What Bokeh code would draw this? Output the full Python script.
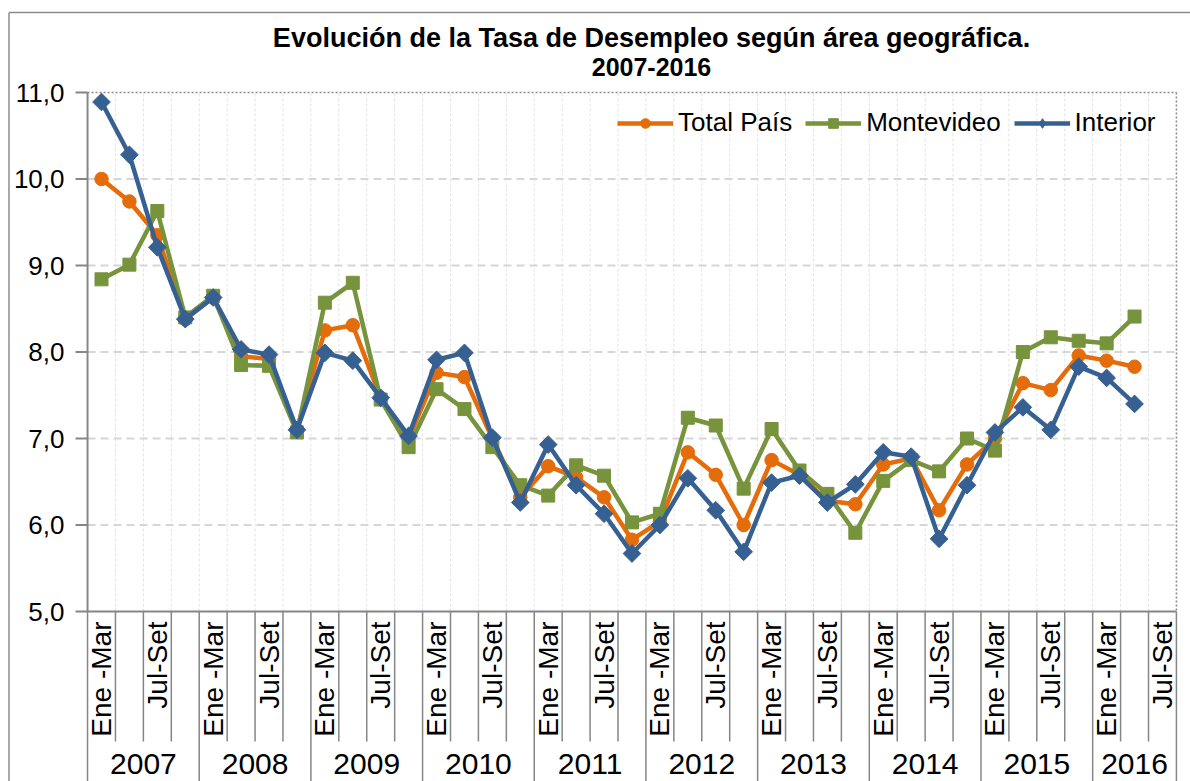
import numpy as np
from bokeh.plotting import figure
from bokeh.models import Range1d, Legend, LegendItem
from bokeh.core.properties import value
from bokeh.embed import file_html
from bokeh.resources import INLINE

# ---------------- data ----------------
years = ["2007", "2008", "2009", "2010", "2011", "2012", "2013", "2014", "2015", "2016"]
quarters = ["Ene -Mar", "Abr-Jun", "Jul-Set", "Oct-Dic"]
quarters_2016 = ["Ene -Mar", "Abr-Jun", "Jul-Set"]
shown_quarter_labels = ["Ene -Mar", "Jul-Set"]

total_pais = [10.00, 9.74, 9.35, 8.38,
              8.63, 7.95, 7.92, 7.10,
              8.25, 8.31, 7.47, 7.00,
              7.76, 7.71, 7.00, 6.32,
              6.68, 6.55, 6.32, 5.83,
              6.04, 6.84, 6.58, 6.00,
              6.75, 6.58, 6.28, 6.24,
              6.70, 6.77, 6.17, 6.70,
              7.00, 7.64, 7.56, 7.96,
              7.90, 7.83]
montevideo = [8.84, 9.01, 9.63, 8.40,
              8.65, 7.85, 7.84, 7.07,
              8.57, 8.80, 7.45, 6.90,
              7.57, 7.34, 6.90, 6.46,
              6.34, 6.69, 6.57, 6.03,
              6.13, 7.24, 7.15, 6.42,
              7.11, 6.63, 6.36, 5.91,
              6.51, 6.75, 6.62, 7.00,
              6.86, 8.00, 8.17, 8.13,
              8.10, 8.41]
interior = [10.89, 10.28, 9.21, 8.38,
            8.63, 8.03, 7.97, 7.10,
            7.99, 7.90, 7.47, 7.03,
            7.91, 7.99, 7.01, 6.26,
            6.93, 6.46, 6.13, 5.67,
            6.00, 6.54, 6.17, 5.69,
            6.49, 6.57, 6.26, 6.47,
            6.84, 6.79, 5.84, 6.46,
            7.07, 7.36, 7.10, 7.83,
            7.70, 7.40]

y_ticks = [5, 6, 7, 8, 9, 10, 11]
title_lines = ["Evolución de la Tasa de Desempleo según área geográfica.", "2007-2016"]
series_names = ["Total País", "Montevideo", "Interior"]

# ---------------- build categories ----------------
categories = []
for yr in years:
    qs = quarters_2016 if yr == "2016" else quarters
    for q in qs:
        categories.append((yr, q))
n_cat = len(categories)

# ---------------- geometry (page pixels -> data) ----------------
X0_PX, DX = 101.0, 27.92   # centre of first category, px per category
Y11_PX, DY = 92.0, 86.5    # pixel of value 11, px per unit


def xd(px):
    return (px - X0_PX) / DX


def yd(py):
    return 11 - (py - Y11_PX) / DY


FONT = "Liberation Sans"
W, H = 1190, 781

p = figure(width=W, height=H, output_backend="svg", toolbar_location=None,
           x_range=Range1d(xd(0), xd(W)), y_range=Range1d(yd(H), yd(0)),
           x_axis_location=None, y_axis_location=None, min_border=0)
p.outline_line_color = None
p.grid.visible = False
p.background_fill_color = "white"
p.border_fill_color = "white"

x_left = -0.5
x_right = n_cat - 0.5
y_min, y_max = y_ticks[0], y_ticks[-1]

# outer chart border (left & top)
p.segment(x0=[xd(8.5)], y0=[yd(12)], x1=[xd(8.5)], y1=[yd(H)], line_color="#8C8C8C", line_width=1.5)
p.segment(x0=[xd(8.5)], y0=[yd(12)], x1=[xd(W)], y1=[yd(12)], line_color="#8C8C8C", line_width=1.5)

# vertical light grid at category boundaries
bx = [i + 0.5 for i in range(n_cat - 1)]
p.segment(x0=bx, y0=[y_min] * len(bx), x1=bx, y1=[y_max] * len(bx),
          line_color="#E3E3E3", line_width=1, line_dash="3 2")

# horizontal grid
gy = y_ticks[1:-1]
p.segment(x0=[x_left] * len(gy), y0=gy, x1=[x_right] * len(gy), y1=gy,
          line_color="#D6D6D6", line_width=2, line_dash="8 5")

# plot-area top and right dotted border
p.segment(x0=[x_left, x_right], y0=[y_max, y_max], x1=[x_right, x_right], y1=[y_max, y_min],
          line_color="#8A8A8A", line_width=1.5, line_dash="2 2")

AX = "#868686"
# y axis line and ticks
p.segment(x0=[x_left], y0=[y_min], x1=[x_left], y1=[y_max], line_color=AX, line_width=2)
p.segment(x0=[xd(75)] * len(y_ticks), y0=y_ticks, x1=[x_left] * len(y_ticks), y1=y_ticks,
          line_color=AX, line_width=2)
p.text(x=[xd(64)] * len(y_ticks), y=y_ticks,
       text=[f"{v:.1f}".replace(".", ",") for v in y_ticks],
       text_font=value(FONT), text_font_size=value("26px"), text_color="#000000",
       text_align="right", text_baseline="middle")

# x axis line
p.segment(x0=[x_left], y0=[y_min], x1=[x_right], y1=[y_min], line_color=AX, line_width=2)

# category separators below axis
year_bounds = [x_left]
cnt = 0
for yr in years:
    cnt += len(quarters_2016 if yr == "2016" else quarters)
    year_bounds.append(cnt - 0.5)
q_bounds = [b for b in bx if b not in year_bounds]
p.segment(x0=q_bounds, y0=[y_min] * len(q_bounds), x1=q_bounds, y1=[yd(741)] * len(q_bounds),
          line_color=AX, line_width=1.5)
p.segment(x0=year_bounds, y0=[y_min] * len(year_bounds), x1=year_bounds, y1=[yd(H)] * len(year_bounds),
          line_color=AX, line_width=1.5)

# quarter labels (rotated)
qx = [i for i, (yr, q) in enumerate(categories) if q in shown_quarter_labels]
qt = [q for (yr, q) in categories if q in shown_quarter_labels]
p.text(x=qx, y=[yd(621)] * len(qx), text=qt, angle=np.pi / 2,
       text_font=value(FONT), text_font_size=value("28px"), text_color="#000000",
       text_align="right", text_baseline="middle")

# year labels
yx = [(year_bounds[k] + year_bounds[k + 1]) / 2 for k in range(len(years))]
p.text(x=yx, y=[yd(763)] * len(years), text=years,
       text_font=value(FONT), text_font_size=value("30px"), text_color="#000000",
       text_align="center", text_baseline="middle")

# title
p.text(x=[xd(651)] * 2, y=[yd(37), yd(66)], text=title_lines,
       text_font=value(FONT), text_font_size=["27px", "25px"], text_font_style="bold",
       text_color="#000000", text_align="center", text_baseline="middle")

# ---------------- series ----------------
colors = ["#E46C0A", "#77933C", "#376092"]
markers = [("circle", 13.5, 0.0), ("square", 13, 0.0), ("square", 12.5, np.pi / 4)]
legend_markers = [("circle", 13), ("square", 13), ("diamond", 22)]
items = []
for name, vals, c, (mk, sz, ang), (lmk, lsz) in zip(series_names, [total_pais, montevideo, interior],
                                                     colors, markers, legend_markers):
    xs = list(range(len(vals)))
    ln = p.line(xs, vals, line_color=c, line_width=4.5, line_join="round")
    sc = p.scatter(xs, vals, marker=mk, size=sz, angle=ang, fill_color=c, line_color=c, line_width=1)
    # legend-only marker (no visible data points)
    lg = p.scatter([np.nan], [np.nan], marker=lmk, size=lsz, fill_color=c, line_color=c, line_width=1)
    items.append(LegendItem(label=name, renderers=[ln, lg]))

legend = Legend(items=items, orientation="horizontal", location=(617, 643),
                label_text_font=FONT, label_text_font_size="26px", label_text_color="#000000",
                glyph_width=56, glyph_height=24, label_height=24, label_standoff=5,
                spacing=13, padding=0, margin=0, border_line_color=None,
                background_fill_alpha=0)
p.add_layout(legend)

open("out.html", "w").write(file_html(p, INLINE))
